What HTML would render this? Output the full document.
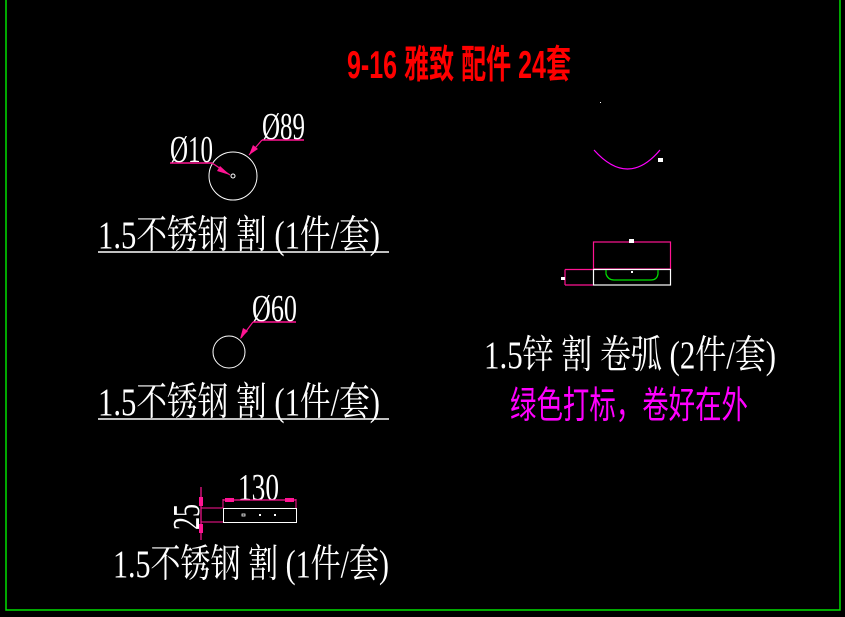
<!DOCTYPE html>
<html><head><meta charset="utf-8"><style>
html,body{margin:0;padding:0;background:#000;}
svg{display:block}
text{font-family:"Liberation Serif","Noto Serif CJK SC","Noto Sans CJK SC",serif;}
</style></head><body>
<svg width="845" height="617" viewBox="0 0 845 617" xmlns="http://www.w3.org/2000/svg">
<rect width="845" height="617" fill="#000"/>
<polyline points="6,0 6,610 840,610 840,0" fill="none" stroke="#00e000" stroke-width="1.5"/>
<text transform="translate(347,78) scale(1,1.3)" fill="#ff0000" font-size="30" font-weight="bold" textLength="224" lengthAdjust="spacingAndGlyphs" style="font-family:'Liberation Sans','Noto Sans CJK SC',sans-serif">9-16 雅致 配件 24套</text>

<!-- circle 1 -->
<circle cx="233" cy="176" r="24" fill="none" stroke="#fff" stroke-width="1"/>
<circle cx="233" cy="176" r="2" fill="none" stroke="#fff" stroke-width="1"/>
<text transform="translate(170,162) scale(1,1.35)" fill="#fff" font-size="28" textLength="43" lengthAdjust="spacingAndGlyphs">Ø10</text>
<line x1="170" y1="163" x2="212" y2="163" stroke="#ff1493" stroke-width="1.5"/>
<line x1="212" y1="163" x2="230" y2="175" stroke="#ff1493" stroke-width="1.2"/>
<polygon points="230,175 220,166 217,171" fill="#ff1493"/>
<text transform="translate(262,139) scale(1,1.35)" fill="#fff" font-size="28" textLength="43" lengthAdjust="spacingAndGlyphs">Ø89</text>
<line x1="262" y1="140" x2="304" y2="140" stroke="#ff1493" stroke-width="1.5"/>
<line x1="262" y1="140" x2="249" y2="155" stroke="#ff1493" stroke-width="1.2"/>
<polygon points="249,155 253,145 258,149" fill="#ff1493"/>
<text transform="translate(98,248) scale(1,1.3)" fill="#fff" font-size="30" textLength="282" lengthAdjust="spacingAndGlyphs">1.5不锈钢 割 (1件/套)</text>
<line x1="98" y1="252" x2="389" y2="252" stroke="#fff" stroke-width="1.5"/>

<!-- circle 2 -->
<circle cx="229" cy="352" r="16" fill="none" stroke="#fff" stroke-width="1"/>
<text transform="translate(252,321) scale(1,1.35)" fill="#fff" font-size="28" textLength="45" lengthAdjust="spacingAndGlyphs">Ø60</text>
<line x1="253" y1="322" x2="296" y2="322" stroke="#ff1493" stroke-width="1.5"/>
<line x1="253" y1="322" x2="241" y2="338" stroke="#ff1493" stroke-width="1.2"/>
<polygon points="240,339 243,328 248,331" fill="#ff1493"/>
<text transform="translate(98,415) scale(1,1.3)" fill="#fff" font-size="30" textLength="282" lengthAdjust="spacingAndGlyphs">1.5不锈钢 割 (1件/套)</text>
<line x1="98" y1="419" x2="389" y2="419" stroke="#fff" stroke-width="1.5"/>

<!-- rect 130 -->
<rect x="223.5" y="508.5" width="73" height="14" fill="none" stroke="#fff" stroke-width="1"/>
<rect x="242" y="514" width="3" height="2" fill="none" stroke="#fff" stroke-width="0.8"/>
<rect x="259" y="514" width="2" height="2" fill="#fff"/>
<rect x="274" y="514" width="2" height="2" fill="#fff"/>
<text transform="translate(238,500) scale(1,1.35)" fill="#fff" font-size="28" textLength="41" lengthAdjust="spacingAndGlyphs">130</text>
<line x1="223" y1="500" x2="296" y2="500" stroke="#ff1493" stroke-width="1.2"/>
<line x1="223" y1="499" x2="223" y2="508" stroke="#ff1493" stroke-width="1"/>
<line x1="296" y1="499" x2="296" y2="508" stroke="#ff1493" stroke-width="1"/>
<rect x="225" y="498" width="9" height="4" fill="#ff1493"/>
<rect x="285" y="498" width="9" height="4" fill="#ff1493"/>
<line x1="201" y1="487" x2="201" y2="540" stroke="#ff1493" stroke-width="1.2"/>
<line x1="201" y1="508" x2="223" y2="508" stroke="#ff1493" stroke-width="1"/>
<line x1="201" y1="522" x2="223" y2="522" stroke="#ff1493" stroke-width="1"/>
<rect x="199" y="497" width="4" height="9" fill="#ff1493"/>
<rect x="199" y="524" width="4" height="9" fill="#ff1493"/>
<text transform="translate(199,530) rotate(-90) scale(1,1.35)" fill="#fff" font-size="28" textLength="26" lengthAdjust="spacingAndGlyphs">25</text>
<text transform="translate(113,577) scale(1,1.3)" fill="#fff" font-size="30" textLength="276" lengthAdjust="spacingAndGlyphs">1.5不锈钢 割 (1件/套)</text>

<!-- right -->
<rect x="600" y="102" width="1" height="1" fill="#fff"/>
<path d="M594,150 Q628,188 660,150" fill="none" stroke="#ff00ff" stroke-width="1.2"/>
<rect x="658" y="158" width="5" height="4" fill="#fff"/>
<rect x="593.5" y="242" width="77" height="27" fill="none" stroke="#ff1493" stroke-width="1.2"/>
<rect x="629" y="239" width="5" height="4" fill="#fff"/>
<rect x="593.5" y="269.5" width="77" height="15.5" fill="none" stroke="#fff" stroke-width="1.2"/>
<path d="M565,269.5 L593,269.5 M565,285 L593,285 M565,269.5 L565,285" fill="none" stroke="#ff1493" stroke-width="1.2"/>
<rect x="561" y="277" width="4" height="3" fill="#fff"/>
<path d="M606,270 L606,274 Q608,280 614,280 L651,280 Q657,280 658,274 L658,270" fill="none" stroke="#00e000" stroke-width="1.2"/>
<rect x="631" y="271" width="2" height="2" fill="#fff"/>
<text transform="translate(484,368) scale(1,1.3)" fill="#fff" font-size="30" textLength="292" lengthAdjust="spacingAndGlyphs">1.5锌 割 卷弧 (2件/套)</text>
<text transform="translate(510,418) scale(1,1.25)" fill="#ff00ff" font-size="30" textLength="238" lengthAdjust="spacingAndGlyphs" style="font-family:'Liberation Sans','Noto Sans CJK SC',sans-serif">绿色打标，卷好在外</text>
</svg>
</body></html>
